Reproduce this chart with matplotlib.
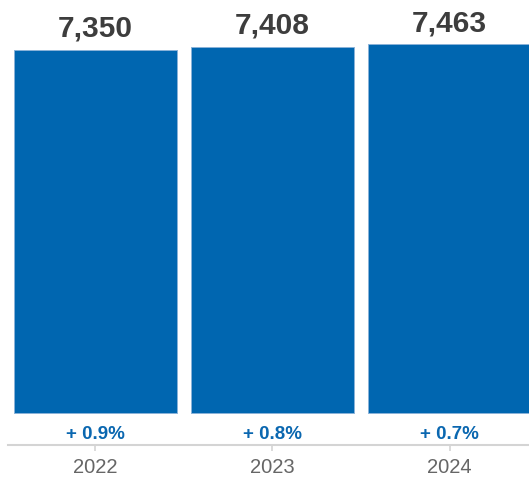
import matplotlib
matplotlib.use('Agg')
import matplotlib.pyplot as plt

years = ['2022', '2023', '2024']
values = [7350, 7408, 7463]
growth = [0.9, 0.8, 0.7]

plt.rcParams['font.family'] = ['Liberation Sans', 'DejaVu Sans']

bar_color = '#0066b0'
axis_color = '#d4d4d4'

fig = plt.figure(figsize=(5.29, 4.81), dpi=100)
ax = fig.add_axes([8 / 529, 35 / 481, 1 - 8 / 529, 446 / 481])

x = list(range(len(years)))
ax.bar(x, values, width=0.92, color=bar_color,
       edgecolor='#8ab2d9', linewidth=0.7)

ax.set_xlim(-0.494, 2.449)
ax.set_ylim(-641, 8375)

# value labels above the bars
for xi, v in zip(x, values):
    ax.annotate(f'{v:,}', xy=(xi, v), xytext=(0, 10),
                textcoords='offset points', ha='center', va='baseline',
                fontsize=21.5, fontweight='bold', color='#3d3d3d')

# year-on-year change just above the axis line
for xi, g in zip(x, growth):
    ax.annotate(f'+ {g:.1f}%', xy=(xi, 0),
                xycoords=('data', 'axes fraction'), xytext=(0, 4.8),
                textcoords='offset points', ha='center', va='baseline',
                fontsize=13.5, fontweight='bold', color='#0a67b0')

for side in ['left', 'right', 'top']:
    ax.spines[side].set_visible(False)
ax.spines['bottom'].set_color(axis_color)
ax.spines['bottom'].set_linewidth(1.5)

ax.set_yticks([])
ax.set_xticks(x)
ax.set_xticklabels(years)
ax.tick_params(axis='x', length=4.5, width=1.2, color=axis_color,
               pad=4.5, labelsize=14.5, labelcolor='#666666')

fig.savefig('out.png', dpi=100)
